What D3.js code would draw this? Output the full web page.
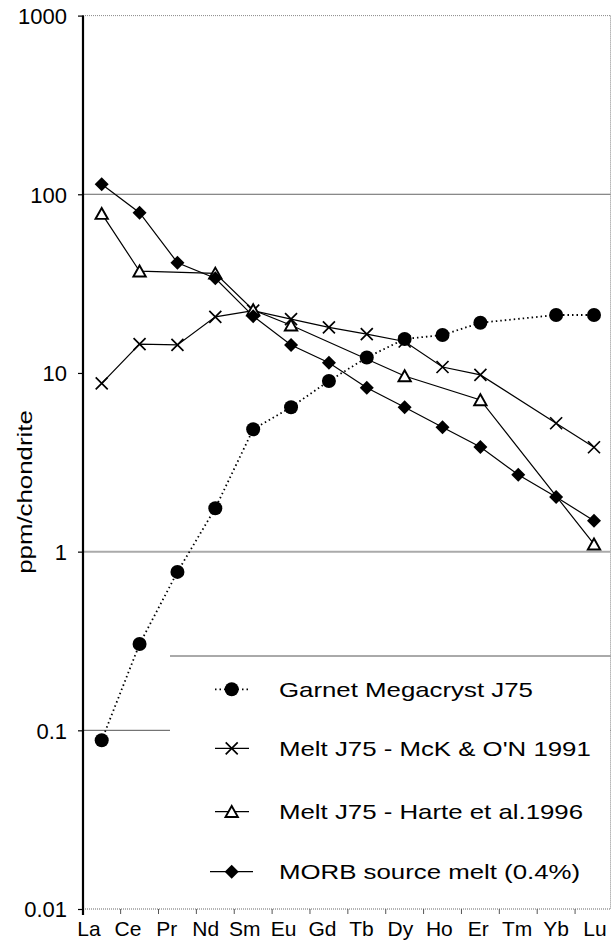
<!DOCTYPE html>
<html>
<head>
<meta charset="utf-8">
<script src="https://cdn.jsdelivr.net/npm/d3@7/dist/d3.min.js"></script>
<style>
  html, body { margin: 0; padding: 0; background: #fff; }
  svg { display: block; }
  text { font-family: "Liberation Sans", Arial, sans-serif; fill: #000; }
</style>
</head>
<body>
<svg id="chart" width="615" height="943"></svg>
<script>
// Rare-earth element patterns, chondrite-normalised
const elements = ["La", "Ce", "Pr", "Nd", "Sm", "Eu", "Gd", "Tb", "Dy", "Ho", "Er", "Tm", "Yb", "Lu"];
const yTickValues = [0.01, 0.1, 1, 10, 100, 1000];
const yTickLabels = ["0.01", "0.1", "1", "10", "100", "1000"];

const garnetJ75   = [0.088, 0.304, 0.77, 1.75, 4.84, 6.43, 9.02, 12.2, 15.5, 16.3, 19.1, null, 21.1, 21.1];
const meltMcK     = [8.75, 14.5, 14.35, 20.6, 22.3, 20.0, 18.0, 16.5, 15.0, 10.8, 9.75, null, 5.23, 3.84];
const meltHarte   = [77.9, 37.1, null, 36.1, 22.5, 18.5, null, null, 9.62, null, 7.06, null, null, 1.10];
const morbSource  = [113.7, 78.9, 41.4, 33.9, 20.8, 14.35, 11.4, 8.27, 6.43, 4.97, 3.85, 2.69, 2.02, 1.49];

const seriesNames = ["Garnet Megacryst J75", "Melt J75 - McK & O'N 1991", "Melt J75 - Harte et al.1996", "MORB source melt (0.4%)"];

const series = [
  { name: seriesNames[0], values: garnetJ75,  marker: "circle",   dotted: true },
  { name: seriesNames[1], values: meltMcK,    marker: "cross",    dotted: false },
  { name: seriesNames[2], values: meltHarte,  marker: "triangle", dotted: false },
  { name: seriesNames[3], values: morbSource, marker: "diamond",  dotted: false }
];

const svg = d3.select("#chart");

const plot = { left: 83, right: 610.5, top: 15.6, bottom: 909 };

const x = d3.scalePoint().domain(elements).range([101.7, 594]);
const xLabel = d3.scalePoint().domain(elements).range([89, 595]);
const y = d3.scaleLog().domain([0.01, 1000]).range([plot.bottom, plot.top]);

// Frame: dotted top, right and bottom edges
const frame = svg.append("g");
frame.append("line")
  .attr("x1", plot.left).attr("x2", plot.right)
  .attr("y1", y(1000)).attr("y2", y(1000))
  .attr("stroke", "#888").attr("stroke-width", 1).attr("stroke-dasharray", "1,1");
frame.append("line")
  .attr("x1", plot.right).attr("x2", plot.right)
  .attr("y1", plot.top).attr("y2", plot.bottom)
  .attr("stroke", "#888").attr("stroke-width", 1).attr("stroke-dasharray", "1,1");
frame.append("line")
  .attr("x1", plot.left).attr("x2", plot.right)
  .attr("y1", plot.bottom).attr("y2", plot.bottom)
  .attr("stroke", "#666").attr("stroke-width", 1.2).attr("stroke-dasharray", "1,1");

// Gridlines
const grid = svg.append("g");
grid.append("line")
  .attr("x1", plot.left).attr("x2", plot.right)
  .attr("y1", y(100)).attr("y2", y(100))
  .attr("stroke", "#666").attr("stroke-width", 1);
grid.append("line")
  .attr("x1", plot.left).attr("x2", plot.right)
  .attr("y1", y(1)).attr("y2", y(1))
  .attr("stroke", "#aaa").attr("stroke-width", 2);
grid.append("line")
  .attr("x1", plot.left).attr("x2", plot.right)
  .attr("y1", y(0.1)).attr("y2", y(0.1))
  .attr("stroke", "#555").attr("stroke-width", 1);

// Category boundary ticks on the x axis
const step = x.step();
const xTicks = svg.append("g");
elements.slice(1).forEach(e => {
  const bx = x(e) - step / 2;
  xTicks.append("line")
    .attr("x1", bx).attr("x2", bx)
    .attr("y1", plot.bottom).attr("y2", plot.bottom + 5)
    .attr("stroke", "#555").attr("stroke-width", 1);
});
xTicks.selectAll("text.xl")
  .data(elements)
  .join("text")
  .attr("class", "xl")
  .attr("x", d => xLabel(d))
  .attr("y", 936)
  .attr("text-anchor", "middle")
  .attr("font-size", 21)
  .text(d => d);

// Y axis
const yAxis = svg.append("g").attr("transform", `translate(${plot.left},0)`)
  .call(d3.axisLeft(y).tickValues(yTickValues).tickSize(5)
    .tickFormat((d, i) => yTickLabels[i]));
yAxis.select(".domain").attr("stroke", "#000").attr("stroke-width", 2.2)
  .attr("d", `M0,${plot.top}V${plot.bottom + 6}`);
yAxis.selectAll(".tick line").attr("stroke", "#000").attr("stroke-width", 1.2);
yAxis.selectAll(".tick text")
  .attr("font-size", 22)
  .attr("font-family", "Liberation Sans, Arial, sans-serif")
  .attr("fill", "#000")
  .attr("x", -16)
  .attr("dy", "0.36em");

// Axis title
svg.append("text")
  .attr("transform", "translate(32,492) rotate(-90) scale(1.23,1)")
  .attr("text-anchor", "middle")
  .attr("font-size", 21)
  .text("ppm/chondrite");

// Series lines (gaps are bridged)
const lineGen = d3.line()
  .x(d => x(d.el))
  .y(d => y(d.v));

const pointsOf = s => s.values
  .map((v, i) => ({ el: elements[i], v }))
  .filter(d => d.v !== null);

function drawMarker(g, type, cx, cy) {
  if (type === "circle") {
    g.append("circle").attr("cx", cx).attr("cy", cy).attr("r", 7).attr("fill", "#000");
  } else if (type === "cross") {
    const r = 6;
    g.append("path")
      .attr("d", `M${cx - r},${cy - r}L${cx + r},${cy + r}M${cx - r},${cy + r}L${cx + r},${cy - r}`)
      .attr("stroke", "#000").attr("stroke-width", 1.7).attr("fill", "none");
  } else if (type === "triangle") {
    const h = 10.5, w = 6.2;
    g.append("path")
      .attr("d", `M${cx},${cy - h / 2 - 0.5}L${cx + w},${cy + h / 2}L${cx - w},${cy + h / 2}Z`)
      .attr("stroke", "#000").attr("stroke-width", 1.9).attr("fill", "#fff");
  } else if (type === "diamond") {
    const r = 7;
    g.append("path")
      .attr("d", `M${cx},${cy - r}L${cx + r},${cy}L${cx},${cy + r}L${cx - r},${cy}Z`)
      .attr("fill", "#000");
  }
}

const dataG = svg.append("g");
series.forEach(s => {
  dataG.append("path")
    .datum(pointsOf(s))
    .attr("d", lineGen)
    .attr("fill", "none")
    .attr("stroke", "#000")
    .attr("stroke-width", s.dotted ? 1.8 : 1.2)
    .attr("stroke-dasharray", s.dotted ? "1.5,3" : null);
});
series.forEach(s => {
  const g = dataG.append("g");
  pointsOf(s).forEach(d => drawMarker(g, s.marker, x(d.el), y(d.v)));
});

// Legend
const legend = svg.append("g");
legend.append("rect")
  .attr("x", 170).attr("y", 656)
  .attr("width", plot.right - 170 - 0.5).attr("height", plot.bottom - 656 - 1)
  .attr("fill", "#fff");
legend.append("line")
  .attr("x1", 170).attr("x2", plot.right)
  .attr("y1", 656).attr("y2", 656)
  .attr("stroke", "#555").attr("stroke-width", 1);

const rowY = [689.3, 748.3, 811.7, 871.7];
series.forEach((s, i) => {
  const cy = rowY[i];
  const x0 = s.marker === "diamond" ? 210 : 215;
  const x1 = s.marker === "diamond" ? 253 : 249;
  legend.append("line")
    .attr("x1", x0).attr("x2", x1)
    .attr("y1", cy).attr("y2", cy)
    .attr("stroke", "#000")
    .attr("stroke-width", s.dotted ? 1.8 : 1.2)
    .attr("stroke-dasharray", s.dotted ? "1.5,3" : null);
  drawMarker(legend, s.marker, 231.7, cy);
  legend.append("text")
    .attr("transform", `translate(279,${cy + 7.5}) scale(1.23,1)`)
    .attr("font-size", 21)
    .text(s.name);
});
</script>
</body>
</html>
